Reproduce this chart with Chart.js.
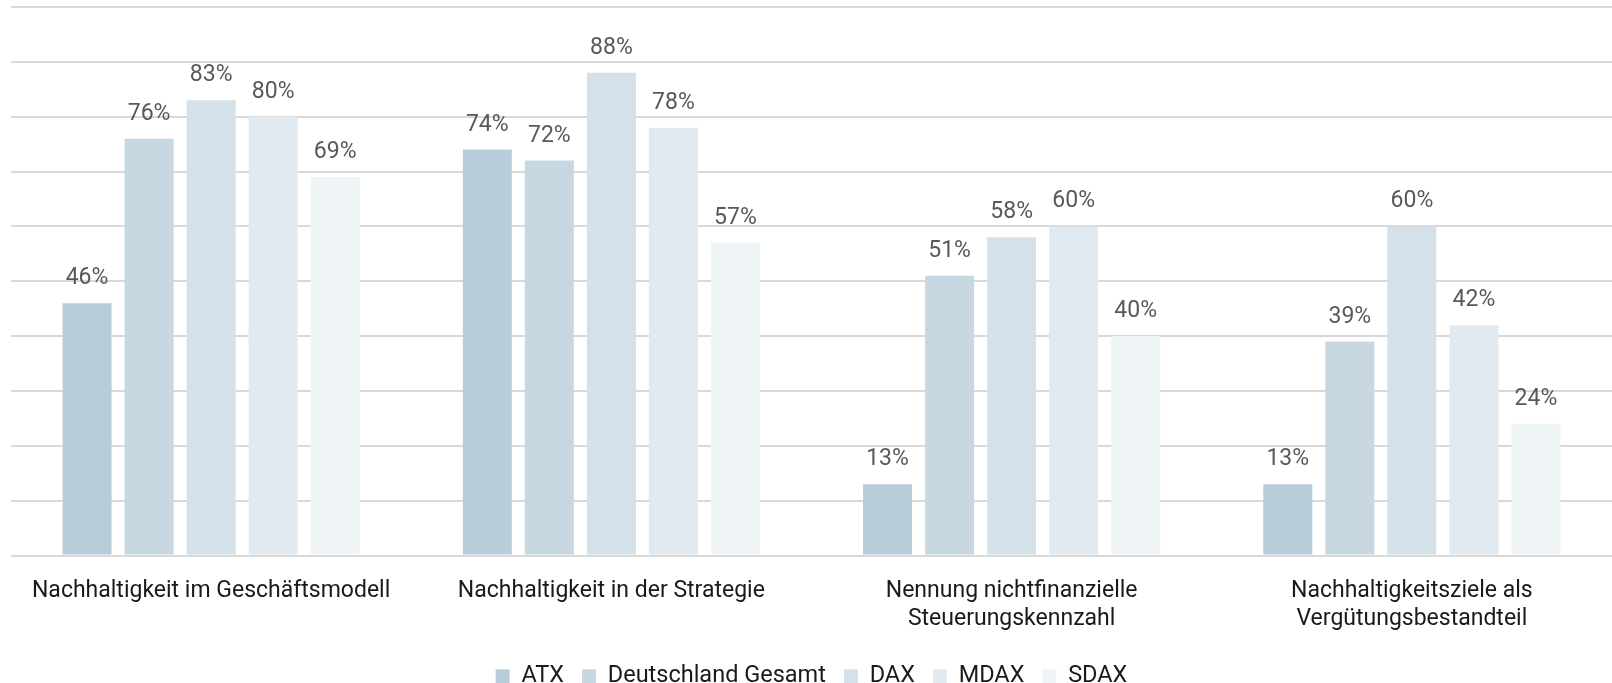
<!DOCTYPE html>
<html lang="de">
<head>
<meta charset="utf-8">
<title>Nachhaltigkeit</title>
<script src="https://cdn.jsdelivr.net/npm/chart.js@4.4.1/dist/chart.umd.min.js"></script>
<style>
    html, body { margin: 0; padding: 0; background: #ffffff; }
    #wrap { width: 1612px; height: 683px; }
</style>
</head>
<body>
<div id="wrap"><canvas id="sustainChart" width="1612" height="683"></canvas></div>
<script>
// Kategorien (x-Achse)
const categories = [
    ['Nachhaltigkeit im Geschäftsmodell'],
    ['Nachhaltigkeit in der Strategie'],
    ['Nennung nichtfinanzielle', 'Steuerungskennzahl'],
    ['Nachhaltigkeitsziele als', 'Vergütungsbestandteil']
];

// Werte in %
const atx = [46, 74, 13, 13];
const deutschland = [76, 72, 51, 39];
const dax = [83, 88, 58, 60];
const mdax = [80, 78, 60, 42];
const sdax = [69, 57, 40, 24];

const seriesNames = ['ATX', 'Deutschland Gesamt', 'DAX', 'MDAX', 'SDAX'];
const seriesColors = ['#b8cdd9', '#c7d8e2', '#d4e1e9', '#e1eaf0', '#eff4f7'];

// draws the value above each bar
const valueLabels = {
    id: 'valueLabels',
    afterDatasetsDraw(chart) {
        const ctx = chart.ctx;
        ctx.save();
        ctx.font = '23px Roboto';
        ctx.fillStyle = '#595959';
        ctx.textAlign = 'center';
        ctx.textBaseline = 'alphabetic';
        chart.data.datasets.forEach((ds, i) => {
            chart.getDatasetMeta(i).data.forEach((bar, j) => {
                ctx.fillText(ds.data[j] + '%', bar.x, bar.y - 19);
            });
        });
        ctx.restore();
    }
};

const allSeries = [atx, deutschland, dax, mdax, sdax];

new Chart(document.getElementById('sustainChart'), {
    type: 'bar',
    data: {
        labels: categories,
        datasets: allSeries.map((values, i) => ({
            label: seriesNames[i],
            data: values,
            backgroundColor: seriesColors[i],
            categoryPercentage: 0.775,
            barPercentage: 0.79
        }))
    },
    options: {
        responsive: false,
        animation: false,
        layout: {
            padding: { left: 11, right: 0, top: 7, bottom: -15 }
        },
        scales: {
            x: {
                grid: { display: false, drawTicks: false },
                border: { display: false },
                ticks: {
                    color: '#1a1a1a',
                    font: { family: 'Roboto', size: 23, lineHeight: 1.25 },
                    padding: 21,
                    maxRotation: 0,
                    autoSkip: false
                },
                afterFit(scale) { scale.height = 91; }
            },
            y: {
                min: 0,
                max: 100,
                ticks: { display: false, stepSize: 10 },
                border: { display: false },
                grid: { color: '#d9d9d9', lineWidth: 2, drawTicks: false }
            }
        },
        plugins: {
            legend: {
                position: 'bottom',
                labels: {
                    boxWidth: 14,
                    boxHeight: 14,
                    padding: 18,
                    color: '#1a1a1a',
                    font: { family: 'Roboto', size: 23.5 }
                }
            },
            tooltip: { enabled: false }
        }
    },
    plugins: [valueLabels]
});
</script>
</body>
</html>
